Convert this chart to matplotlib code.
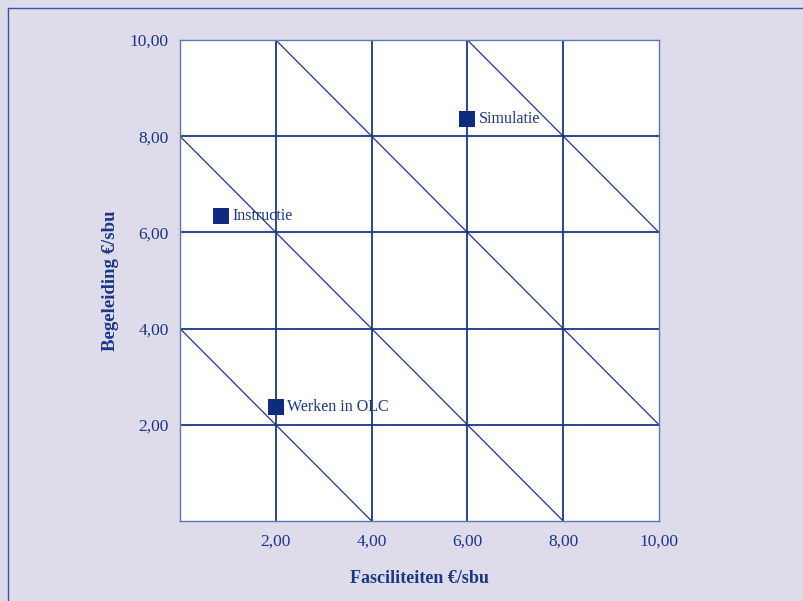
import matplotlib
matplotlib.use('Agg')
import matplotlib.pyplot as plt
import numpy as np

# colours
bg = '#dedbeb'
navy = '#1a3786'
mark = '#0e2b80'

# data
names = ['Simulatie', 'Instructie', 'Werken in OLC']
fac = [6.0, 0.86, 2.0]      # Fasciliteiten
beg = [8.36, 6.34, 2.36]    # Begeleiding
ticks = [2, 4, 6, 8, 10]
tick_labels = ['2,00', '4,00', '6,00', '8,00', '10,00']
diag_sums = [4, 8, 12, 16]  # lines x + y = c

plt.rcParams['font.family'] = ['Liberation Serif', 'DejaVu Serif']

fig = plt.figure(figsize=(8.04, 6.01), dpi=100, facecolor=bg)
ax = fig.add_axes([180/804, 80/601, 479/804, 481/601])
ax.set_facecolor('white')
ax.set_xlim(0, 10)
ax.set_ylim(0, 10)

# grid
for t in ticks[:-1]:
    ax.axvline(t, color=navy, lw=1.3, zorder=1)
    ax.axhline(t, color=navy, lw=1.3, zorder=1)
ax.axhline(10, color=navy, lw=1.3, zorder=1)

# diagonals
xs = np.array([0, 10])
for c in diag_sums:
    ax.plot(xs, c - xs, color=navy, lw=0.9, zorder=1)

# points
ax.scatter(fac, beg, marker='s', s=120, color=mark, zorder=3, linewidths=0)
for n, x, y in zip(names, fac, beg):
    ax.annotate(n, (x, y), xytext=(8, 0), textcoords='offset points',
                va='center', ha='left', color=navy, fontsize=11.5, zorder=4)

for s in ['left', 'bottom', 'right', 'top']:
    ax.spines[s].set_color('#5f78b8')
    ax.spines[s].set_linewidth(1.0)

ax.set_xticks(ticks)
ax.set_xticklabels(tick_labels)
ax.set_yticks(ticks)
ax.set_yticklabels(tick_labels)
ax.tick_params(length=0, colors=navy, labelsize=12.5)
ax.tick_params(axis='y', pad=8)
ax.tick_params(axis='x', pad=9)

ax.set_xlabel('Fasciliteiten €/sbu', fontsize=13, fontweight='bold', color=navy, labelpad=15)
ax.set_ylabel('Begeleiding €/sbu', fontsize=13.5, fontweight='bold', color=navy, labelpad=8)

# outer frame lines (top and left)
fig.add_artist(plt.Line2D([8/804, 1], [1 - 8/601, 1 - 8/601], transform=fig.transFigure, color='#3a55a8', lw=1.0))
fig.add_artist(plt.Line2D([8/804, 8/804], [0, 1 - 8/601], transform=fig.transFigure, color='#3a55a8', lw=1.0))

fig.savefig('out.png', dpi=100, facecolor=bg)
